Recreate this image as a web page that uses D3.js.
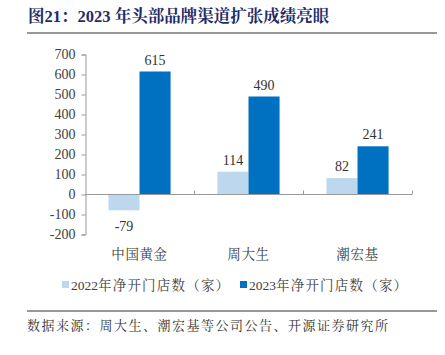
<!DOCTYPE html>
<html><head><meta charset="utf-8">
<script src="https://cdn.jsdelivr.net/npm/d3@7"></script>
<style>body{margin:0;background:#fff}svg{display:block}</style>
</head><body>
<script>
const categories = ["中国黄金", "周大生", "潮宏基"];
const seriesYears = ["2022", "2023"];
const seriesSuffix = "年净开门店数（家）";
const values2022 = [-79, 114, 82];
const values2023 = [615, 490, 241];
const yTicks = [-200, -100, 0, 100, 200, 300, 400, 500, 600, 700];
const colors = ["#BDD7EE", "#0070C0"];

const W = 445, H = 355;
const svg = d3.select("body").append("svg").attr("width", W).attr("height", H);
const serif = "'Liberation Serif','Times New Roman',serif";
const cjkSerif = "'Liberation Serif','Noto Serif CJK SC','Noto Sans CJK SC',serif";

// Title
svg.append("text").attr("x", 28).attr("y", 22)
  .attr("font-family", cjkSerif).attr("font-weight", "bold").attr("font-size", 16.5)
  .attr("fill", "#1F2D6B").text("图21：2023 年头部品牌渠道扩张成绩亮眼");
svg.append("line").attr("x1", 27).attr("x2", 437).attr("y1", 33).attr("y2", 33)
  .attr("stroke", "#333").attr("stroke-width", 1);

const x0 = d3.scaleBand().domain(categories).range([85, 412]).paddingInner(0.43).paddingOuter(0.215);
const x1 = d3.scaleBand().domain([0, 1]).range([0, x0.bandwidth()]);
const y = d3.scaleLinear().domain([-200, 700]).range([234.5, 54.5]);

// y axis
const yAxis = svg.append("g").attr("transform", "translate(85.5,0)")
  .call(d3.axisLeft(y).tickValues(yTicks).tickFormat(d => String(d)).tickSize(4).tickPadding(6));
yAxis.select(".domain").attr("stroke", "#999");
yAxis.selectAll(".tick line").attr("stroke", "#999");
yAxis.selectAll("text").attr("font-family", serif).attr("font-size", 14).attr("fill", "#404040");

// bars
const data = categories.map((c, i) => ({c, v: [values2022[i], values2023[i]]}));
const g = svg.append("g");
data.forEach(d => {
  d.v.forEach((v, j) => {
    const bx = x0(d.c) + x1(j);
    g.append("rect").attr("x", bx).attr("width", x1.bandwidth())
      .attr("y", y(Math.max(0, v))).attr("height", Math.abs(y(v) - y(0)))
      .attr("fill", colors[j]);
    g.append("text").attr("x", bx + x1.bandwidth() / 2)
      .attr("y", v >= 0 ? y(v) - 7 : y(v) + 21)
      .attr("text-anchor", "middle").attr("font-family", serif).attr("font-size", 14)
      .attr("fill", "#333").text(String(v));
  });
});

// x axis at zero
const xAxis = svg.append("g").attr("transform", `translate(0,${y(0)})`);
xAxis.append("line").attr("x1", 85).attr("x2", 412).attr("stroke", "#999");
const bandStep = (412 - 85) / categories.length;
for (let i = 1; i <= categories.length; i++) {
  const tx = Math.round(85 + bandStep * i) + 0.5;
  xAxis.append("line").attr("x1", tx).attr("x2", tx).attr("y1", 0).attr("y2", -4).attr("stroke", "#999");
}
categories.forEach(c => {
  svg.append("text").attr("x", x0(c) + x0.bandwidth() / 2).attr("y", 259)
    .attr("text-anchor", "middle").attr("font-family", cjkSerif).attr("font-size", 13.5)
    .attr("letter-spacing", 0.6).attr("fill", "#404040").text(c);
});

// legend
const legend = [{x: 62}, {x: 240}];
legend.forEach((l, i) => {
  svg.append("rect").attr("x", l.x).attr("y", 281).attr("width", 7).attr("height", 7).attr("fill", colors[i]);
  const t = svg.append("text").attr("x", l.x + 9).attr("y", 289.5)
    .attr("font-family", cjkSerif).attr("font-size", 13.5).attr("fill", "#404040");
  t.append("tspan").text(seriesYears[i]);
  t.append("tspan").attr("letter-spacing", 1.2).text(seriesSuffix);
});

// footer
svg.append("line").attr("x1", 27).attr("x2", 437).attr("y1", 311).attr("y2", 311)
  .attr("stroke", "#333").attr("stroke-width", 1);
svg.append("text").attr("x", 27).attr("y", 330)
  .attr("font-family", cjkSerif).attr("font-size", 13).attr("letter-spacing", 1.5)
  .attr("fill", "#333")
  .text("数据来源：周大生、潮宏基等公司公告、开源证券研究所");
</script>
</body></html>
